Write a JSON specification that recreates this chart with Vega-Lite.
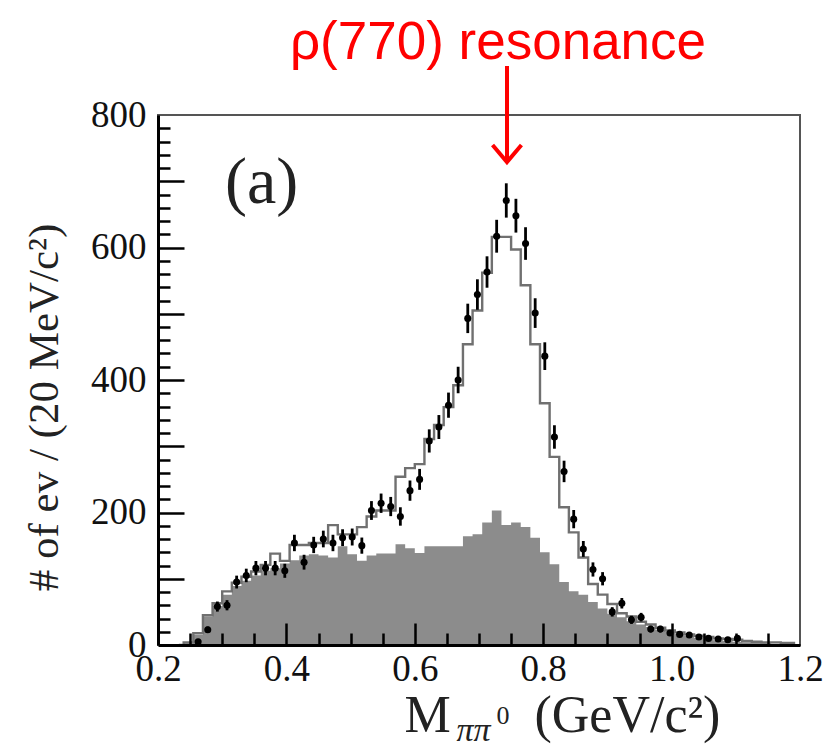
{
  "$schema": "https://vega.github.io/schema/vega-lite/v6.json",
  "width": 642,
  "height": 530,
  "autosize": {"type": "none"},
  "padding": {"left": 158, "top": 115, "right": 33, "bottom": 108},
  "background": "white",
  "config": {"view": {"stroke": "#555", "strokeWidth": 2}, "axis": {"grid": false}},
  "datasets": {
    "hist": [
      {"lo":0.225,"hi":0.24,"c":0.2325,"bg":0,"mc":0},
      {"lo":0.24,"hi":0.255,"c":0.2475,"bg":3,"mc":4},
      {"lo":0.255,"hi":0.27,"c":0.2625,"bg":16,"mc":18},
      {"lo":0.27,"hi":0.285,"c":0.2775,"bg":43,"mc":45},
      {"lo":0.285,"hi":0.3,"c":0.2925,"bg":59,"mc":63},
      {"lo":0.3,"hi":0.315,"c":0.3075,"bg":76,"mc":81},
      {"lo":0.315,"hi":0.33,"c":0.3225,"bg":89,"mc":94},
      {"lo":0.33,"hi":0.345,"c":0.3375,"bg":97,"mc":103},
      {"lo":0.345,"hi":0.36,"c":0.3525,"bg":105,"mc":111},
      {"lo":0.36,"hi":0.375,"c":0.3675,"bg":112,"mc":121},
      {"lo":0.375,"hi":0.39,"c":0.3825,"bg":116,"mc":138},
      {"lo":0.39,"hi":0.405,"c":0.3975,"bg":123,"mc":127},
      {"lo":0.405,"hi":0.42,"c":0.4125,"bg":128,"mc":151},
      {"lo":0.42,"hi":0.435,"c":0.4275,"bg":135,"mc":151},
      {"lo":0.435,"hi":0.45,"c":0.4425,"bg":137,"mc":154},
      {"lo":0.45,"hi":0.465,"c":0.4575,"bg":135,"mc":154},
      {"lo":0.465,"hi":0.48,"c":0.4725,"bg":132,"mc":181},
      {"lo":0.48,"hi":0.495,"c":0.4875,"bg":149,"mc":167},
      {"lo":0.495,"hi":0.51,"c":0.5025,"bg":137,"mc":167},
      {"lo":0.51,"hi":0.525,"c":0.5175,"bg":127,"mc":178},
      {"lo":0.525,"hi":0.54,"c":0.5325,"bg":135,"mc":194},
      {"lo":0.54,"hi":0.555,"c":0.5475,"bg":138,"mc":203},
      {"lo":0.555,"hi":0.57,"c":0.5625,"bg":138,"mc":203},
      {"lo":0.57,"hi":0.585,"c":0.5775,"bg":152,"mc":254},
      {"lo":0.585,"hi":0.6,"c":0.5925,"bg":146,"mc":267},
      {"lo":0.6,"hi":0.615,"c":0.6075,"bg":139,"mc":273},
      {"lo":0.615,"hi":0.63,"c":0.6225,"bg":149,"mc":311},
      {"lo":0.63,"hi":0.645,"c":0.6375,"bg":149,"mc":332},
      {"lo":0.645,"hi":0.66,"c":0.6525,"bg":149,"mc":359},
      {"lo":0.66,"hi":0.675,"c":0.6675,"bg":149,"mc":392},
      {"lo":0.675,"hi":0.69,"c":0.6825,"bg":164,"mc":454},
      {"lo":0.69,"hi":0.705,"c":0.6975,"bg":167,"mc":505},
      {"lo":0.705,"hi":0.72,"c":0.7125,"bg":185,"mc":562},
      {"lo":0.72,"hi":0.735,"c":0.7275,"bg":203,"mc":616},
      {"lo":0.735,"hi":0.75,"c":0.7425,"bg":181,"mc":616},
      {"lo":0.75,"hi":0.765,"c":0.7575,"bg":185,"mc":597},
      {"lo":0.765,"hi":0.78,"c":0.7725,"bg":178,"mc":543},
      {"lo":0.78,"hi":0.795,"c":0.7875,"bg":162,"mc":454},
      {"lo":0.795,"hi":0.81,"c":0.8025,"bg":140,"mc":365},
      {"lo":0.81,"hi":0.825,"c":0.8175,"bg":122,"mc":284},
      {"lo":0.825,"hi":0.84,"c":0.8325,"bg":95,"mc":208},
      {"lo":0.84,"hi":0.855,"c":0.8475,"bg":81,"mc":170},
      {"lo":0.855,"hi":0.87,"c":0.8625,"bg":76,"mc":132},
      {"lo":0.87,"hi":0.885,"c":0.8775,"bg":65,"mc":92},
      {"lo":0.885,"hi":0.9,"c":0.8925,"bg":55,"mc":76},
      {"lo":0.9,"hi":0.915,"c":0.9075,"bg":47,"mc":62},
      {"lo":0.915,"hi":0.93,"c":0.9225,"bg":42,"mc":48},
      {"lo":0.93,"hi":0.945,"c":0.9375,"bg":36,"mc":43},
      {"lo":0.945,"hi":0.96,"c":0.9525,"bg":31,"mc":35},
      {"lo":0.96,"hi":0.975,"c":0.9675,"bg":27,"mc":31},
      {"lo":0.975,"hi":0.99,"c":0.9825,"bg":23,"mc":26},
      {"lo":0.99,"hi":1.005,"c":0.9975,"bg":20,"mc":22},
      {"lo":1.005,"hi":1.02,"c":1.0125,"bg":17,"mc":19},
      {"lo":1.02,"hi":1.035,"c":1.0275,"bg":14,"mc":16},
      {"lo":1.035,"hi":1.05,"c":1.0425,"bg":11,"mc":14},
      {"lo":1.05,"hi":1.065,"c":1.0575,"bg":9,"mc":12},
      {"lo":1.065,"hi":1.08,"c":1.0725,"bg":7,"mc":10},
      {"lo":1.08,"hi":1.095,"c":1.0875,"bg":6,"mc":9},
      {"lo":1.095,"hi":1.11,"c":1.1025,"bg":5,"mc":8},
      {"lo":1.11,"hi":1.125,"c":1.1175,"bg":4,"mc":6},
      {"lo":1.125,"hi":1.14,"c":1.1325,"bg":3,"mc":5},
      {"lo":1.14,"hi":1.155,"c":1.1475,"bg":3,"mc":4},
      {"lo":1.155,"hi":1.17,"c":1.1625,"bg":2,"mc":4},
      {"lo":1.17,"hi":1.185,"c":1.1775,"bg":2,"mc":3},
      {"lo":1.185,"hi":1.2,"c":1.1925,"bg":1,"mc":3}
    ],
    "pts": [
      {"c":0.2625,"n":5,"elo":2.8,"ehi":7.2},
      {"c":0.2775,"n":23,"elo":18.2,"ehi":27.8},
      {"c":0.2925,"n":58,"elo":50.4,"ehi":65.6},
      {"c":0.3075,"n":60,"elo":52.3,"ehi":67.7},
      {"c":0.3225,"n":95,"elo":85.3,"ehi":104.7},
      {"c":0.3375,"n":105,"elo":94.8,"ehi":115.2},
      {"c":0.3525,"n":116,"elo":105.2,"ehi":126.8},
      {"c":0.3675,"n":116,"elo":105.2,"ehi":126.8},
      {"c":0.3825,"n":116,"elo":105.2,"ehi":126.8},
      {"c":0.3975,"n":112,"elo":101.4,"ehi":122.6},
      {"c":0.4125,"n":154,"elo":141.6,"ehi":166.4},
      {"c":0.4275,"n":125,"elo":113.8,"ehi":136.2},
      {"c":0.4425,"n":151,"elo":138.7,"ehi":163.3},
      {"c":0.4575,"n":160,"elo":147.4,"ehi":172.6},
      {"c":0.4725,"n":154,"elo":141.6,"ehi":166.4},
      {"c":0.4875,"n":162,"elo":149.3,"ehi":174.7},
      {"c":0.5025,"n":163,"elo":150.2,"ehi":175.8},
      {"c":0.5175,"n":150,"elo":137.8,"ehi":162.2},
      {"c":0.5325,"n":203,"elo":188.8,"ehi":217.2},
      {"c":0.5475,"n":214,"elo":199.4,"ehi":228.6},
      {"c":0.5625,"n":209,"elo":194.5,"ehi":223.5},
      {"c":0.5775,"n":194,"elo":180.1,"ehi":207.9},
      {"c":0.5925,"n":233,"elo":217.7,"ehi":248.3},
      {"c":0.6075,"n":250,"elo":234.2,"ehi":265.8},
      {"c":0.6225,"n":308,"elo":290.5,"ehi":325.5},
      {"c":0.6375,"n":329,"elo":310.9,"ehi":347.1},
      {"c":0.6525,"n":362,"elo":343,"ehi":381},
      {"c":0.6675,"n":400,"elo":380,"ehi":420},
      {"c":0.6825,"n":493,"elo":470.8,"ehi":515.2},
      {"c":0.6975,"n":529,"elo":506,"ehi":552},
      {"c":0.7125,"n":563,"elo":539.3,"ehi":586.7},
      {"c":0.7275,"n":617,"elo":592.2,"ehi":641.8},
      {"c":0.7425,"n":671,"elo":645.1,"ehi":696.9},
      {"c":0.7575,"n":648,"elo":622.5,"ehi":673.5},
      {"c":0.7725,"n":606,"elo":581.4,"ehi":630.6},
      {"c":0.7875,"n":501,"elo":478.6,"ehi":523.4},
      {"c":0.8025,"n":436,"elo":415.1,"ehi":456.9},
      {"c":0.8175,"n":314,"elo":296.3,"ehi":331.7},
      {"c":0.8325,"n":262,"elo":245.8,"ehi":278.2},
      {"c":0.8475,"n":190,"elo":176.2,"ehi":203.8},
      {"c":0.8625,"n":145,"elo":133,"ehi":157},
      {"c":0.8775,"n":114,"elo":103.3,"ehi":124.7},
      {"c":0.8925,"n":100,"elo":90,"ehi":110},
      {"c":0.9075,"n":50,"elo":42.9,"ehi":57.1},
      {"c":0.9225,"n":63,"elo":55.1,"ehi":70.9},
      {"c":0.9375,"n":38,"elo":31.8,"ehi":44.2},
      {"c":0.9525,"n":42,"elo":35.5,"ehi":48.5},
      {"c":0.9675,"n":24,"elo":19.1,"ehi":28.9},
      {"c":0.9825,"n":24,"elo":19.1,"ehi":28.9},
      {"c":0.9975,"n":18,"elo":13.8,"ehi":22.2},
      {"c":1.0125,"n":16,"elo":12,"ehi":20},
      {"c":1.0275,"n":15,"elo":11.1,"ehi":18.9},
      {"c":1.0425,"n":12,"elo":8.5,"ehi":15.5},
      {"c":1.0575,"n":10,"elo":6.8,"ehi":13.2},
      {"c":1.0725,"n":9,"elo":6,"ehi":12},
      {"c":1.0875,"n":8,"elo":5.2,"ehi":10.8},
      {"c":1.1025,"n":10,"elo":6.8,"ehi":13.2}
    ]
  },
  "resolve": {"axis": {"x": "independent", "y": "independent"}},
  "layer": [
    {
      "data": {"name": "hist"},
      "mark": {"type": "area", "interpolate": "step", "color": "#8c8c8c", "opacity": 1},
      "encoding": {
        "x": {"field": "c", "type": "quantitative",
          "scale": {"domain": [0.2, 1.2], "nice": false, "zero": false},
          "axis": {"orient": "bottom", "values": [0.2, 0.4, 0.6, 0.8, 1.0, 1.2], "format": ".1f", "ticks": false,
            "domainColor": "#000", "domainWidth": 3, "labelFont": "Liberation Serif", "labelFontSize": 37,
            "labelColor": "#111", "labelPadding": 6, "labelFlush": false, "labelOverlap": false, "title": null, "zindex": 2}},
        "y": {"field": "bg", "type": "quantitative",
          "scale": {"domain": [0, 800], "nice": false},
          "axis": {"orient": "left", "values": [0, 200, 400, 600, 800], "ticks": false,
            "domainColor": "#000", "domainWidth": 3, "labelFont": "Liberation Serif", "labelFontSize": 37,
            "labelColor": "#111", "labelPadding": 12, "labelFlush": false, "labelOverlap": false,
            "title": "# of ev / (20 MeV/c²)", "titleFont": "Liberation Serif", "titleFontSize": 43,
            "titleFontWeight": "normal", "titleColor": "#222", "titlePadding": 24, "titleY": 292, "zindex": 2}},
        "y2": {"datum": 0}
      }
    },
    {
      "data": {"name": "hist"},
      "mark": {"type": "line", "interpolate": "step", "color": "#707070", "strokeWidth": 2.4},
      "encoding": {
        "x": {"field": "c", "type": "quantitative",
          "scale": {"domain": [0.2, 1.2], "nice": false, "zero": false},
          "axis": {"orient": "bottom", "values": [0.25, 0.3, 0.35, 0.45, 0.5, 0.55, 0.65, 0.7, 0.75, 0.85, 0.9, 0.95, 1.05, 1.1, 1.15],
            "labels": false, "domain": false, "tickSize": -12, "tickWidth": 2.5, "tickColor": "#000", "title": null, "zindex": 2}},
        "y": {"field": "mc", "type": "quantitative",
          "scale": {"domain": [0, 800], "nice": false},
          "axis": {"orient": "left", "values": [20,40,60,80,120,140,160,180,220,240,260,280,320,340,360,380,420,440,460,480,520,540,560,580,620,640,660,680,720,740,760,780],
            "labels": false, "domain": false, "tickSize": -12, "tickWidth": 2.5, "tickColor": "#000", "title": null, "zindex": 2}}
      }
    },
    {
      "data": {"name": "pts"},
      "mark": {"type": "rule", "color": "#000", "strokeWidth": 2.8},
      "encoding": {
        "x": {"field": "c", "type": "quantitative",
          "scale": {"domain": [0.2, 1.2], "nice": false, "zero": false},
          "axis": {"orient": "bottom", "values": [0.4, 0.6, 0.8, 1.0], "labels": false, "domain": false,
            "tickSize": -22, "tickWidth": 2.5, "tickColor": "#000", "title": null, "zindex": 2}},
        "y": {"field": "elo", "type": "quantitative",
          "scale": {"domain": [0, 800], "nice": false},
          "axis": {"orient": "left", "values": [100, 200, 300, 400, 500, 600, 700], "labels": false, "domain": false,
            "tickSize": -26, "tickWidth": 2.5, "tickColor": "#000", "title": null, "zindex": 2}},
        "y2": {"field": "ehi"}
      }
    },
    {
      "data": {"name": "pts"},
      "mark": {"type": "circle", "color": "#000", "size": 50, "opacity": 1},
      "encoding": {
        "x": {"field": "c", "type": "quantitative", "axis": null},
        "y": {"field": "n", "type": "quantitative", "axis": null}
      }
    },
    {
      "data": {"values": [{}]},
      "mark": {"type": "rule", "color": "#ff0000", "strokeWidth": 4},
      "encoding": {
        "x": {"datum": 0.7436, "type": "quantitative", "axis": null},
        "y": {"datum": 874, "type": "quantitative", "axis": null},
        "y2": {"datum": 731}
      }
    },
    {
      "data": {"values": [{}]},
      "mark": {"type": "point", "shape": "M-0.85,-1L0,0L0.85,-1", "size": 1156, "filled": false,
        "stroke": "#ff0000", "strokeWidth": 4, "opacity": 1, "strokeJoin": "miter"},
      "encoding": {
        "x": {"datum": 0.7436, "type": "quantitative", "axis": null},
        "y": {"datum": 729, "type": "quantitative", "axis": null}
      }
    },
    {
      "data": {"values": [{}]},
      "mark": {"type": "text", "text": "ρ(770) resonance", "font": "Liberation Sans", "fontSize": 53,
        "color": "#ff0000", "align": "center", "baseline": "alphabetic"},
      "encoding": {
        "x": {"datum": 0.7296, "type": "quantitative", "axis": null},
        "y": {"datum": 885, "type": "quantitative", "axis": null}
      }
    },
    {
      "data": {"values": [{}]},
      "mark": {"type": "text", "text": "(a)", "font": "Liberation Serif", "fontSize": 66,
        "color": "#222", "align": "left", "baseline": "alphabetic"},
      "encoding": {
        "x": {"datum": 0.3044, "type": "quantitative", "axis": null},
        "y": {"datum": 667, "type": "quantitative", "axis": null}
      }
    },
    {
      "data": {"values": [{}]},
      "mark": {"type": "text", "text": "M", "font": "Liberation Serif", "fontSize": 52,
        "color": "#222", "align": "left", "baseline": "alphabetic"},
      "encoding": {
        "x": {"datum": 0.584, "type": "quantitative", "axis": null},
        "y": {"datum": -131.3, "type": "quantitative", "axis": null}
      }
    },
    {
      "data": {"values": [{}]},
      "mark": {"type": "text", "text": "ππ", "font": "Liberation Serif", "fontStyle": "italic", "fontSize": 34,
        "color": "#222", "align": "left", "baseline": "alphabetic"},
      "encoding": {
        "x": {"datum": 0.665, "type": "quantitative", "axis": null},
        "y": {"datum": -144.9, "type": "quantitative", "axis": null}
      }
    },
    {
      "data": {"values": [{}]},
      "mark": {"type": "text", "text": "0", "font": "Liberation Serif", "fontSize": 26,
        "color": "#222", "align": "left", "baseline": "alphabetic"},
      "encoding": {
        "x": {"datum": 0.7272, "type": "quantitative", "axis": null},
        "y": {"datum": -119.2, "type": "quantitative", "axis": null}
      }
    },
    {
      "data": {"values": [{}]},
      "mark": {"type": "text", "text": "(GeV/c²)", "font": "Liberation Serif", "fontSize": 52,
        "color": "#222", "align": "left", "baseline": "alphabetic"},
      "encoding": {
        "x": {"datum": 0.7864, "type": "quantitative", "axis": null},
        "y": {"datum": -131.3, "type": "quantitative", "axis": null}
      }
    }
  ]
}
